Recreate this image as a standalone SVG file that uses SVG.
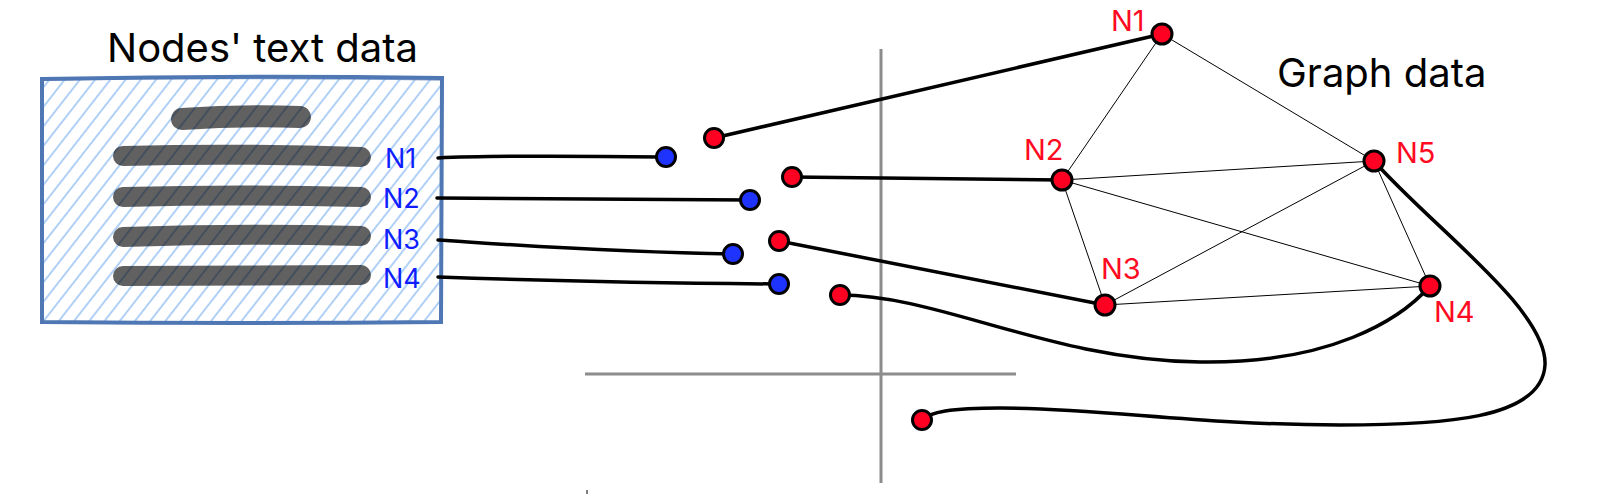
<svg xmlns="http://www.w3.org/2000/svg" width="1600" height="500" viewBox="0 0 1600 500">
<style>
.title{font-family:Inter,"Liberation Sans",sans-serif;font-size:40px;fill:#000}
.nl{font-family:Inter,"Liberation Sans",sans-serif;font-size:27px}
.gl{font-size:29px}
.blue{fill:#0f1eff}
.red{fill:#ff0a22}
.thick{fill:none;stroke:#000;stroke-width:3.5;stroke-linecap:round}
.thin{fill:none;stroke:#000;stroke-width:1}
.bar{fill:none;stroke:#000;stroke-opacity:0.62;stroke-width:20;stroke-linecap:round}
.axis{fill:none;stroke:#8c8c8c;stroke-width:3}
.bd{fill:#1f33ff;stroke:#000;stroke-width:3}
.rd{fill:#ff0022;stroke:#000;stroke-width:3}
</style>
<defs>
<pattern id="hatch" patternUnits="userSpaceOnUse" width="12" height="12" patternTransform="rotate(38)">
<line x1="4" y1="0" x2="4" y2="12" stroke="#a9cbf5" stroke-width="1.8"/>
</pattern>
</defs>
<rect width="1600" height="500" fill="#fff"/>

<g id="text-data">
<text class="title" x="107" y="62">Nodes' text data</text>
<rect x="42" y="79" width="400" height="243" fill="url(#hatch)"/>
<path d="M42,79 Q240,75 442,78 L441,322 Q240,324 42,322 Z" fill="none" stroke="#4f77b4" stroke-width="4"/>
<path d="M44,80 Q250,77 440,80" fill="none" stroke="#4f77b4" stroke-width="1.5" stroke-opacity="0.6"/>
<path class="bar" d="M182,119 Q240,115 300,117" style="stroke-width:22"/>
<path class="bar" d="M123,156 Q240,153 361,157"/>
<path class="bar" d="M123,197 Q240,194 361,197"/>
<path class="bar" d="M123,237 Q240,233 361,236"/>
<path class="bar" d="M123,276 Q240,275 361,275"/>
<text class="nl blue" x="385" y="168">N1</text>
<text class="nl blue" x="383" y="208">N2</text>
<text class="nl blue" x="383" y="249">N3</text>
<text class="nl blue" x="383" y="288">N4</text>
</g>

<g id="axes">
<line class="axis" x1="881" y1="49" x2="881" y2="483"/>
<line class="axis" x1="585" y1="374" x2="1016" y2="374"/>
<line x1="587" y1="490" x2="587" y2="494" stroke="#000" stroke-width="1"/>
</g>

<g id="connectors">
<path class="thick" d="M438,158 C500,155 580,156 666,157"/>
<path class="thick" d="M437,198 C550,199 650,199 750,200"/>
<path class="thick" d="M438,240 C500,244 600,252 733,254"/>
<path class="thick" d="M438,277 C550,281 650,283 779,284"/>
<path class="thick" d="M714,138 L1162,34"/>
<path class="thick" d="M792,177 L1062,180"/>
<path class="thick" d="M779,241 L1105,305"/>
<path class="thick" d="M840,295 C940,295 1050,360 1200,362 C1330,364 1400,320 1430,286"/>
<path class="thick" d="M1374,161 C1430,225 1548,310 1545,365 C1542,420 1440,425 1340,425 C1200,425 1100,408 1000,408 C950,408 930,412 922,420"/>
<line class="thin" x1="1162" y1="34" x2="1062" y2="180"/>
<line class="thin" x1="1162" y1="34" x2="1374" y2="161"/>
<line class="thin" x1="1062" y1="180" x2="1374" y2="161"/>
<line class="thin" x1="1062" y1="180" x2="1105" y2="305"/>
<line class="thin" x1="1062" y1="180" x2="1430" y2="286"/>
<line class="thin" x1="1105" y1="305" x2="1374" y2="161"/>
<line class="thin" x1="1105" y1="305" x2="1430" y2="286"/>
<line class="thin" x1="1374" y1="161" x2="1430" y2="286"/>
</g>

<g id="text-ports">
<circle class="bd" cx="666" cy="157" r="9.5"/>
<circle class="bd" cx="750" cy="200" r="9.5"/>
<circle class="bd" cx="733" cy="254" r="9.5"/>
<circle class="bd" cx="779" cy="284" r="9.5"/>
</g>

<g id="graph-ports">
<circle class="rd" cx="714" cy="138" r="9.5"/>
<circle class="rd" cx="792" cy="177" r="9.5"/>
<circle class="rd" cx="779" cy="241" r="9.5"/>
<circle class="rd" cx="840" cy="295" r="9.5"/>
<circle class="rd" cx="922" cy="420" r="9.5"/>
</g>

<g id="graph">
<text class="title" x="1277" y="87">Graph data</text>
</g>
<g id="node-N1"><circle class="rd" cx="1162" cy="34" r="10"/><text class="nl gl red" x="1111" y="31">N1</text></g>
<g id="node-N2"><circle class="rd" cx="1062" cy="180" r="10"/><text class="nl gl red" x="1024" y="160">N2</text></g>
<g id="node-N3"><circle class="rd" cx="1105" cy="305" r="10"/><text class="nl gl red" x="1101" y="279">N3</text></g>
<g id="node-N4"><circle class="rd" cx="1430" cy="286" r="10"/><text class="nl gl red" x="1434" y="322">N4</text></g>
<g id="node-N5"><circle class="rd" cx="1374" cy="161" r="10"/><text class="nl gl red" x="1396" y="163">N5</text></g>
</svg>
